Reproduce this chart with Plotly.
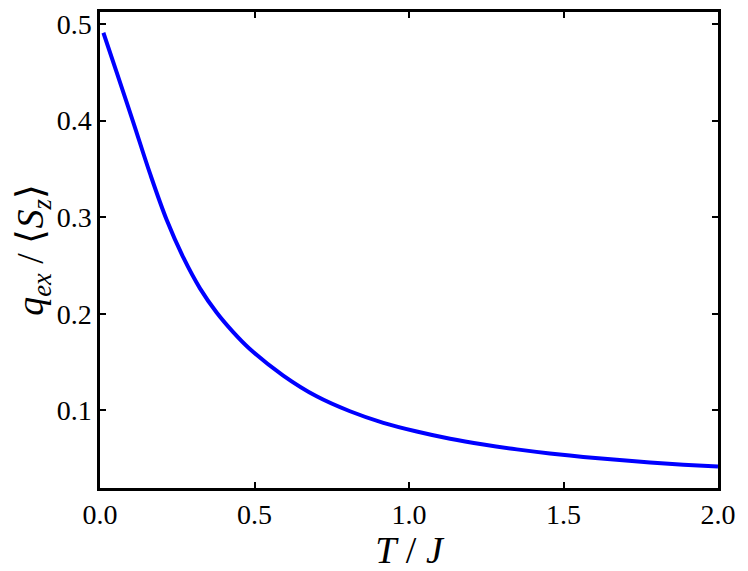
import plotly.graph_objects as go

T = [0.011, 0.054, 0.108, 0.162, 0.216, 0.270, 0.324, 0.378, 0.431, 0.485,
     0.593, 0.701, 0.809, 0.917, 1.025, 1.133, 1.241, 1.349, 1.456, 1.564,
     1.672, 1.780, 1.888, 2.000]
q = [0.491, 0.450, 0.398, 0.345, 0.297, 0.258, 0.226, 0.201, 0.181, 0.1635,
     0.136, 0.1145, 0.099, 0.087, 0.078, 0.0705, 0.0645, 0.0595, 0.0553, 0.0517,
     0.0487, 0.046, 0.0437, 0.0417]

xticks = [0.0, 0.5, 1.0, 1.5, 2.0]
yticks = [0.1, 0.2, 0.3, 0.4, 0.5]

font = "Liberation Serif"

fig = go.Figure()
fig.add_trace(go.Scatter(x=T, y=q, mode="lines",
                         line=dict(color="#0000ff", width=4, shape="spline", smoothing=1.0),
                         showlegend=False))

axis_common = dict(showline=True, linecolor="black", linewidth=2.5, mirror="ticks",
                   ticks="inside", ticklen=6, tickwidth=2, tickcolor="black",
                   showgrid=False, zeroline=False,
                   tickfont=dict(family=font, size=28, color="black"))

fig.update_xaxes(range=[0, 2], tickvals=xticks, ticktext=[f"{v:.1f}" for v in xticks],
                 title=dict(text="<i>T</i> / <i>J</i>", font=dict(family=font, size=38, color="black"),
                            standoff=0),
                 **axis_common)
fig.update_yaxes(range=[0.0195, 0.5125], tickvals=yticks, ticktext=[f"{v:.1f}" for v in yticks],
                 title=dict(text="<i>q</i><sub><i>ex</i></sub> / ⟨<i>S</i><sub><i>z</i></sub>⟩",
                            font=dict(family=font, size=38, color="black"), standoff=0),
                 **axis_common)

fig.update_layout(width=748, height=571, plot_bgcolor="white", paper_bgcolor="white",
                  margin=dict(l=100, r=30, t=9, b=83))

fig.write_html("out.html", config={"displayModeBar": False},
               post_script="document.body.style.margin='0';")
